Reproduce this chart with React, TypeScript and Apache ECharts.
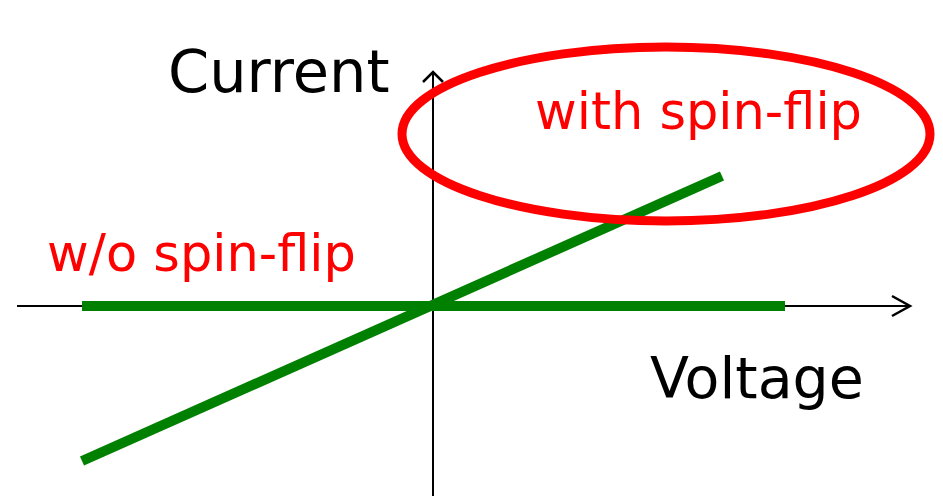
import React, { useEffect, useRef } from "react";
import * as echarts from "echarts";

// Axis ranges (arbitrary units: voltage horizontal, current vertical)
const xRange = [-4.33, 5.1];
const yRange = [-1.9, 3.06];

// Axes with arrow heads
const xAxisLine = [[-4.16, 0], [4.77, 0]];
const xArrow = [[4.59, 0.1], [4.77, 0], [4.59, -0.1]];
const yAxisLine = [[0, -1.9], [0, 2.34]];
const yArrow = [[-0.1, 2.24], [0, 2.34], [0.1, 2.24]];

// Current–voltage curves
const woSpinFlipV = [-3.51, 3.52];
const woSpinFlipI = [0, 0];
const withSpinFlipV = [-3.51, 2.89];
const withSpinFlipI = [-1.55, 1.3];

const labels = {
  current: "Current",
  voltage: "Voltage",
  withSF: "with spin-flip",
  woSF: "w/o spin-flip",
};

const FONT = "'DejaVu Sans', sans-serif";

export default function App() {
  const ref = useRef<HTMLDivElement>(null);
  useEffect(() => {
    const chart = echarts.init(ref.current!, null, { renderer: "svg" });
    const lineSeries = (data: number[][], color: string, width: number, z = 2) => ({
      type: "line",
      data,
      symbol: "none",
      silent: true,
      z,
      lineStyle: { color, width, cap: "butt", join: "miter" },
    });
    chart.setOption({
      animation: false,
      backgroundColor: "#ffffff",
      grid: { left: 0, right: 0, top: 0, bottom: 0 },
      xAxis: { type: "value", min: xRange[0], max: xRange[1], show: false },
      yAxis: { type: "value", min: yRange[0], max: yRange[1], show: false },
      series: [
        lineSeries(xAxisLine, "#000000", 2),
        lineSeries(xArrow, "#000000", 2.5),
        lineSeries(yAxisLine, "#000000", 2),
        lineSeries(yArrow, "#000000", 2.5),
        lineSeries(woSpinFlipV.map((v, i) => [v, woSpinFlipI[i]]), "#008000", 10, 3),
        lineSeries(withSpinFlipV.map((v, i) => [v, withSpinFlipI[i]]), "#008000", 10, 3),
      ],
      graphic: [
        {
          type: "ellipse",
          z: 10,
          shape: { cx: 666, cy: 134, rx: 264, ry: 87 },
          style: { fill: "none", stroke: "#ff0000", lineWidth: 9 },
        },
        {
          type: "text",
          z: 11,
          x: 168,
          y: 71,
          style: { text: labels.current, fill: "#000000", font: `59px ${FONT}`, verticalAlign: "middle" },
        },
        {
          type: "text",
          z: 11,
          x: 650,
          y: 378,
          style: { text: labels.voltage, fill: "#000000", font: `57px ${FONT}`, verticalAlign: "middle" },
        },
        {
          type: "text",
          z: 11,
          x: 535,
          y: 111,
          style: { text: labels.withSF, fill: "#ff0000", font: `51px ${FONT}`, verticalAlign: "middle" },
        },
        {
          type: "text",
          z: 11,
          x: 47,
          y: 253,
          style: { text: labels.woSF, fill: "#ff0000", font: `51px ${FONT}`, verticalAlign: "middle" },
        },
      ],
    });
    return () => chart.dispose();
  }, []);
  return (
    <div
      ref={ref}
      style={{ position: "fixed", left: 0, top: 0, width: 943, height: 496 }}
    />
  );
}
